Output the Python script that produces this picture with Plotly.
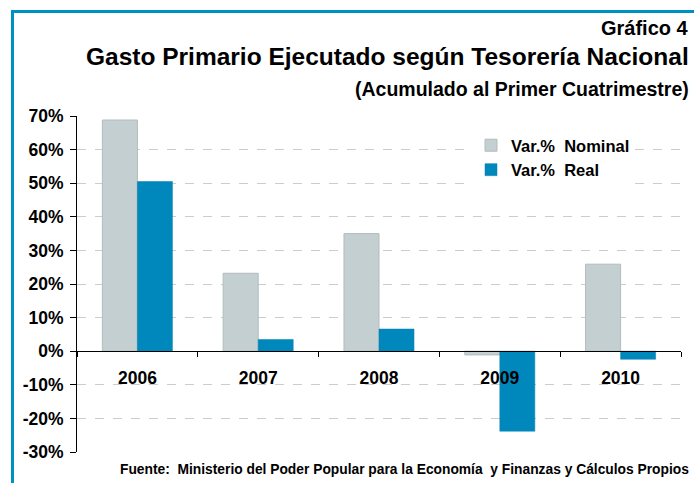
import plotly.graph_objects as go

years = ["2006", "2007", "2008", "2009", "2010"]
nominal = [68.8, 23.2, 35.0, -1.1, 25.9]
real = [50.5, 3.5, 6.6, -23.8, -2.4]
y_ticks = [-30, -20, -10, 0, 10, 20, 30, 40, 50, 60, 70]
y_tick_labels = [f"{v}%" for v in y_ticks]

FONT = "Arial, Liberation Sans, sans-serif"
W, H = 694, 483
L, R, T, B = 77, 13, 116, 31
pw, ph = W - L - R, H - T - B

def px(x):
    return (x - L) / pw

def py(y):
    return (H - B - y) / ph

fig = go.Figure()
fig.add_trace(go.Bar(x=years, y=nominal, name="Var.%  Nominal", legendgroup="a",
                     marker=dict(color="#C4CFD1", line=dict(color="#B3BBBD", width=1))))
fig.add_trace(go.Bar(x=years, y=real, name="Var.%  Real", legendgroup="b",
                     marker=dict(color="#0088BD", line=dict(color="#0080B0", width=0.5))))

fig.update_layout(
    width=W, height=H,
    margin=dict(l=L, r=R, t=T, b=B),
    paper_bgcolor="white", plot_bgcolor="white",
    barmode="group", bargap=0.42, bargroupgap=0,
    font=dict(family=FONT, color="black"),
    showlegend=True,
    legend=dict(x=px(471), y=py(128), xanchor="left", yanchor="top",
                bgcolor="white", font=dict(size=16.5, weight="bold"),
                itemwidth=30, tracegroupgap=5, traceorder="normal"),
    xaxis=dict(type="category", anchor="free", position=0.3,
               showline=True, linecolor="black", linewidth=1,
               ticks="outside", ticklen=5, tickcolor="black", tickson="boundaries",
               tickfont=dict(size=17.5, weight="bold"), ticklabelstandoff=11,
               showgrid=False),
    yaxis=dict(range=[-30, 70], tickvals=y_ticks, ticktext=y_tick_labels,
               showline=True, linecolor="black", linewidth=1,
               ticks="outside", ticklen=6, tickcolor="black",
               tickfont=dict(size=17.5, weight="bold"), ticklabelstandoff=3,
               showgrid=True, gridcolor="#CCCCCC", griddash="dash", gridwidth=1,
               zeroline=True, zerolinecolor="black", zerolinewidth=1),
    shapes=[dict(type="rect", xref="paper", yref="paper",
                 x0=px(12.5), y0=py(520), x1=px(740), y1=py(11.5),
                 line=dict(color="#0091C4", width=3), fillcolor="rgba(0,0,0,0)",
                 layer="below")],
    annotations=[
        dict(text="<b>Gráfico 4</b>", xref="paper", yref="paper", x=px(691), y=py(28),
             xanchor="right", yanchor="middle", showarrow=False, font=dict(size=20)),
        dict(text="<b>Gasto Primario Ejecutado según Tesorería Nacional</b>", xref="paper", yref="paper",
             x=px(691), y=py(57), xanchor="right", yanchor="middle", showarrow=False, font=dict(size=24.5)),
        dict(text="<b>(Acumulado al Primer Cuatrimestre)</b>", xref="paper", yref="paper",
             x=px(691), y=py(89), xanchor="right", yanchor="middle", showarrow=False, font=dict(size=19.5)),
        dict(text="<b>Fuente:  Ministerio del Poder Popular para la Economía  y Finanzas y Cálculos Propios</b>",
             xref="paper", yref="paper", x=px(691), y=py(469), xanchor="right", yanchor="middle",
             showarrow=False, font=dict(size=13.8)),
    ],
)

fig.write_html("out.html", config={"displayModeBar": False},
               post_script="document.body.style.margin='0';document.body.style.overflow='hidden';")
